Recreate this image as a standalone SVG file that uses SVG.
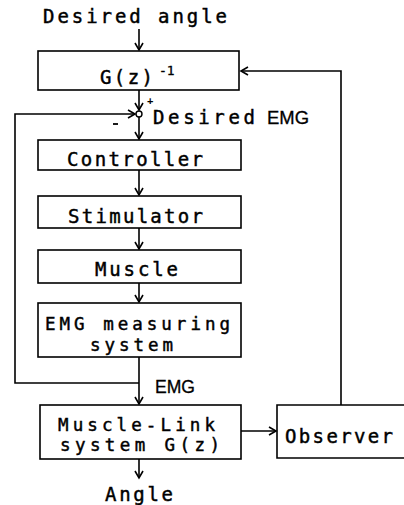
<svg xmlns="http://www.w3.org/2000/svg" width="404" height="505" viewBox="0 0 404 505">
<style>
.box{fill:#fff;stroke:#000;stroke-width:1.6}
.ln{fill:none;stroke:#000;stroke-width:1.6}
.t{font-family:"DejaVu Sans Mono","Liberation Mono",monospace;font-size:19px;fill:#000;stroke:#000;stroke-width:0.45}
.t2{font-size:17.5px}
.s{font-family:"Liberation Sans",Arial,sans-serif;font-size:18px;fill:#000;stroke:#000;stroke-width:0.3}
</style>
<defs>
<marker id="ah" markerWidth="10" markerHeight="10" refX="8" refY="5" orient="auto" markerUnits="userSpaceOnUse">
<path d="M1,1 L8,5 L1,9" fill="none" stroke="#000" stroke-width="1.6"/>
</marker>
</defs>
<rect width="404" height="505" fill="#fff"/>
<text class="t" x="43" y="23" textLength="184" lengthAdjust="spacing">Desired angle</text>
<g id="connectors">
<line class="ln" x1="139" y1="29" x2="139" y2="50" marker-end="url(#ah)"/>
<line class="ln" x1="139" y1="90" x2="139" y2="110" marker-end="url(#ah)"/>
<line class="ln" x1="139" y1="117" x2="139" y2="139" marker-end="url(#ah)"/>
<line class="ln" x1="139" y1="170" x2="139" y2="195" marker-end="url(#ah)"/>
<line class="ln" x1="139" y1="228" x2="139" y2="249" marker-end="url(#ah)"/>
<line class="ln" x1="139" y1="283" x2="139" y2="302" marker-end="url(#ah)"/>
<line class="ln" x1="139" y1="357" x2="139" y2="404" marker-end="url(#ah)"/>
<polyline class="ln" points="139,383 15,383 15,114 135,114" marker-end="url(#ah)"/>
<line class="ln" x1="241" y1="431" x2="276" y2="431" marker-end="url(#ah)"/>
<polyline class="ln" points="341,405 341,71 241,71" marker-end="url(#ah)"/>
<line class="ln" x1="139" y1="459" x2="139" y2="478" marker-end="url(#ah)"/>
</g>
<g id="ginv">
<rect class="box" x="38" y="51" width="201" height="39"/>
<text class="t" x="100" y="84" textLength="53" lengthAdjust="spacing">G(z)</text>
<text class="t" x="159" y="75" style="font-size:13px;stroke-width:0.3">-1</text>
</g>
<g id="sum">
<circle cx="139" cy="114" r="3" fill="#fff" stroke="#000" stroke-width="1.4"/>
<text x="147" y="105" style="font-family:'Liberation Sans',sans-serif;font-size:11px;font-weight:bold">+</text>
<line x1="113" y1="124" x2="118" y2="124" stroke="#000" stroke-width="1.8"/>
<text class="t" x="153" y="124" textLength="102" lengthAdjust="spacing">Desired</text>
<text class="s" x="267" y="124" textLength="42" lengthAdjust="spacingAndGlyphs">EMG</text>
</g>
<g id="controller">
<rect class="box" x="38" y="140" width="203" height="30"/>
<text class="t" x="67" y="166" textLength="136" lengthAdjust="spacing">Controller</text>
</g>
<g id="stimulator">
<rect class="box" x="38" y="196" width="203" height="32"/>
<text class="t" x="68" y="223" textLength="135" lengthAdjust="spacing">Stimulator</text>
</g>
<g id="muscle">
<rect class="box" x="38" y="250" width="203" height="33"/>
<text class="t" x="95" y="276" textLength="83" lengthAdjust="spacing">Muscle</text>
</g>
<g id="emgsys">
<rect class="box" x="38" y="303" width="203" height="54"/>
<text class="t t2" x="45" y="330" textLength="185" lengthAdjust="spacing">EMG measuring</text>
<text class="t t2" x="90" y="351" textLength="83" lengthAdjust="spacing">system</text>
</g>
<text class="s" x="155" y="393" textLength="40" lengthAdjust="spacingAndGlyphs">EMG</text>
<g id="musclelink">
<rect class="box" x="40" y="405" width="201" height="54"/>
<text class="t t2" x="58" y="431" textLength="157" lengthAdjust="spacing">Muscle-Link</text>
<text class="t t2" x="60" y="451" textLength="160" lengthAdjust="spacing">system G(z)</text>
</g>
<g id="observer">
<path class="ln" d="M405,405 L277,405 L277,458 L405,458"/>
<text class="t" x="285" y="443" textLength="108" lengthAdjust="spacing">Observer</text>
</g>
<text class="t" x="105" y="501" textLength="68" lengthAdjust="spacing">Angle</text>
</svg>
